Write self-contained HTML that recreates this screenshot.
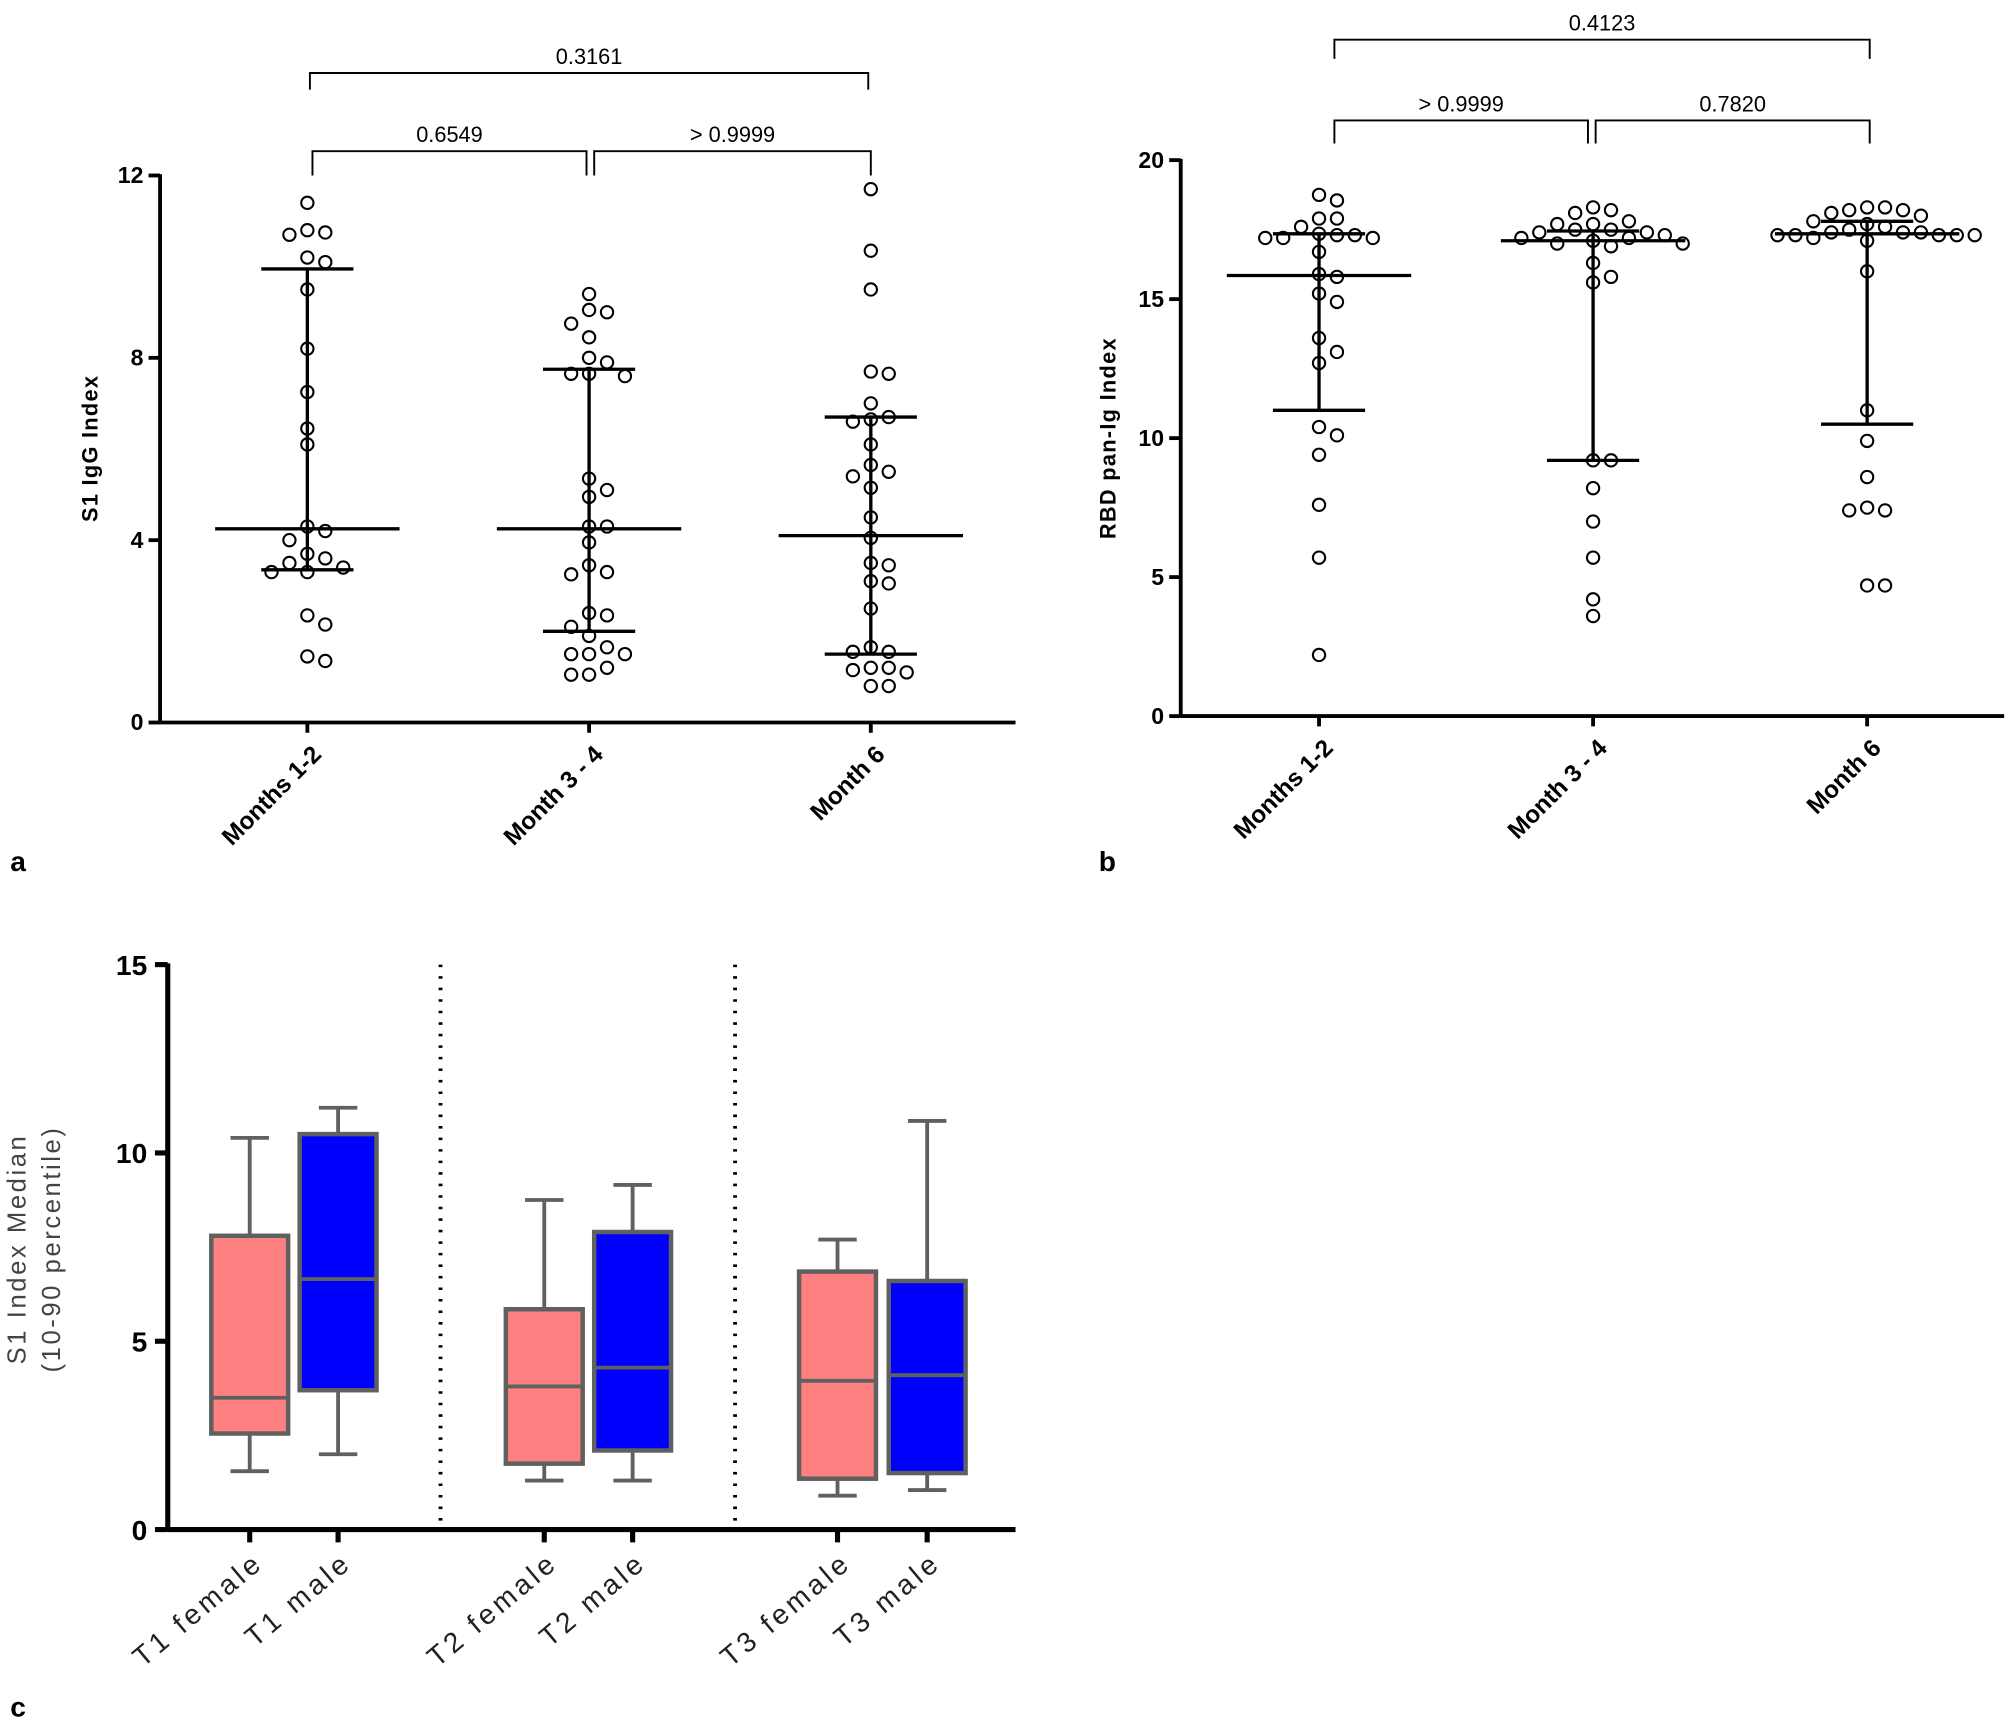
<!DOCTYPE html>
<html><head><meta charset="utf-8"><style>
html,body{margin:0;padding:0;background:#fff}
svg{display:block;font-family:"Liberation Sans",sans-serif}
</style></head><body>
<svg id="s" width="2008" height="1723" viewBox="0 0 1568 1345" preserveAspectRatio="none" xmlns="http://www.w3.org/2000/svg"></svg>
<script>
// ---- Panel a data ----
const catsA = ["Months 1-2","Month 3 - 4","Month 6"];
const ptsA0 = [11.4,10.75,10.7,10.8,10.1,10.2,9.5,8.2,7.25,6.45,6.1,4.2,4.3,4.0,3.6,3.5,3.7,3.3,3.3,3.4,2.35,2.15,1.35,1.45];
const ptsA1 = [9.05,9.0,9.4,8.75,8.45,8.0,7.9,7.65,7.6,7.65,5.35,5.1,4.95,4.3,4.3,3.95,3.45,3.3,3.25,2.4,2.35,2.1,1.9,1.65,1.5,1.5,1.5,1.05,1.05,1.2];
const ptsA2 = [11.7,10.35,9.5,7.7,7.65,7.0,6.65,6.7,6.6,6.1,5.65,5.4,5.5,5.15,4.5,4.05,3.45,3.5,3.05,3.1,2.5,1.65,1.55,1.55,1.15,1.2,1.2,1.1,0.8,0.8];
const medA = [4.25,4.25,4.1];
const loA = [3.35,2.0,1.5];
const hiA = [9.95,7.75,6.7];
const ticksA = [0,4,8,12];
// ---- Panel b data ----
const catsB = ["Months 1-2","Month 3 - 4","Month 6"];
const ptsB0 = [18.75,18.55,17.9,17.9,17.6,17.35,17.3,17.2,17.2,17.3,17.2,16.7,15.8,15.9,15.2,14.9,13.6,13.1,12.7,10.4,10.1,9.4,7.6,5.7,2.2];
const ptsB1 = [18.1,18.3,18.2,17.8,17.7,17.7,17.5,17.5,17.4,17.4,17.3,17.2,17.2,17.1,17.0,17.0,16.9,16.3,15.8,15.6,9.2,9.2,8.2,7.0,5.7,4.2,3.6];
const ptsB2 = [18.3,18.2,18.1,18.3,18.2,18.0,17.8,17.7,17.6,17.5,17.4,17.4,17.4,17.3,17.3,17.3,17.3,17.3,17.2,17.1,16.0,11.0,9.9,8.6,7.5,7.4,7.4,4.7,4.7];
const medB = [15.85,17.1,17.35];
const loB = [11.0,9.2,10.5];
const hiB = [17.35,17.45,17.8];
const ticksB = [0,5,10,15,20];
// ---- Panel c data ----
const catsC = ["T1 female","T1 male","T2 female","T2 male","T3 female","T3 male"];
const wLoC = [1.55,2.0,1.3,1.3,0.9,1.05];
const q1C = [2.55,3.7,1.75,2.1,1.35,1.5];
const medC = [3.5,6.65,3.8,4.3,3.95,4.1];
const q3C = [7.8,10.5,5.85,7.9,6.85,6.6];
const wHiC = [10.4,11.2,8.75,9.15,7.7,10.85];
const ticksC = [0,5,10,15];

const S = document.getElementById('s');
const NS = "http://www.w3.org/2000/svg";
function mk(tag, at, name, txt){
  const e = document.createElementNS(NS, tag);
  for (const k in at) e.setAttribute(k, at[k]);
  
  
  if (txt !== undefined) e.textContent = txt;
  S.appendChild(e); return e;
}
function line(x1,y1,x2,y2,w,name,col,dash){
  const a = {x1,y1,x2,y2,stroke:col||'#000','stroke-width':w};
  if (dash) a['stroke-dasharray']=dash;
  return mk('line',a,name);
}
function swarm(vals, cx, yf, d, r){
  const placed = [];
  const sorted = vals.slice().sort((a,b)=>b-a);
  sorted.forEach(v=>{
    const y = yf(v);
    for (let k=0;k<40;k++){
      const off = (k===0)?0:(k%2? Math.ceil(k/2)*d : -Math.ceil(k/2)*d);
      const x = cx+off;
      if (placed.every(p=>Math.hypot(p[0]-x,p[1]-y) >= 2*r+1.5)){ placed.push([x,y]); break; }
    }
  });
  return placed;
}
function scatterPanel(cfg){
  const yf = v => cfg.y0 - (v - 0)*(cfg.y0-cfg.y1)/cfg.max;
  line(cfg.ax, cfg.y1-1, cfg.ax, cfg.y0, 3, cfg.p+'-y-axis');
  line(cfg.ax, cfg.y0, cfg.xend, cfg.y0, 3, cfg.p+'-x-axis');
  cfg.ticks.forEach(t=>{
    line(cfg.ax-9, yf(t), cfg.ax, yf(t), 3, cfg.p+'-y-tick');
    mk('text',{x:cfg.ax-13,y:yf(t)+6,'text-anchor':'end','font-size':18,'font-weight':'bold'},cfg.p+'-y-tick-label',t);
  });
  mk('text',{x:0,y:0,transform:`translate(${cfg.tx},${cfg.ty}) rotate(-90)`,'text-anchor':'middle','font-size':17,'font-weight':'bold','letter-spacing':1},cfg.p+'-y-axis-title',cfg.title);
  cfg.cats.forEach((c,i)=>{
    const cx = cfg.cx[i];
    line(cx, cfg.y0, cx, cfg.y0+8, 3, cfg.p+'-x-tick');
    mk('text',{x:0,y:0,transform:`translate(${cx+12},${cfg.y0+26}) rotate(-45)`,'text-anchor':'end','font-size':19,'font-weight':'bold'},cfg.p+'-x-tick-label',c);
    swarm(cfg.pts[i], cx, yf, 14, 5).forEach(p=>{
      mk('circle',{cx:p[0],cy:p[1],r:4.8,fill:'#fff',stroke:'#000','stroke-width':1.6},cfg.p+'-data-point');
    });
    line(cx, yf(cfg.lo[i]), cx, yf(cfg.hi[i]), 2.6, cfg.p+'-error-bar');
    line(cx-72, yf(cfg.med[i]), cx+72, yf(cfg.med[i]), 2.6, cfg.p+'-median-line');
    line(cx-36, yf(cfg.lo[i]), cx+36, yf(cfg.lo[i]), 2.6, cfg.p+'-lower-cap');
    line(cx-36, yf(cfg.hi[i]), cx+36, yf(cfg.hi[i]), 2.6, cfg.p+'-upper-cap');
  });
}
scatterPanel({p:'a',ax:125,y0:564,y1:137,max:12,xend:793,cx:[240,460,680],cats:catsA,pts:[ptsA0,ptsA1,ptsA2],med:medA,lo:loA,hi:hiA,ticks:ticksA,title:'S1 IgG Index',tx:76,ty:350});
scatterPanel({p:'b',ax:922,y0:559,y1:125,max:20,xend:1565,cx:[1030,1244,1458],cats:catsB,pts:[ptsB0,ptsB1,ptsB2],med:medB,lo:loB,hi:hiB,ticks:ticksB,title:'RBD pan-Ig Index',tx:871,ty:342});

function bracket(x1,x2,y,drop,label,name){
  mk('path',{d:`M${x1},${y+drop} V${y} H${x2} V${y+drop}`,fill:'none',stroke:'#000','stroke-width':1.5},name);
  mk('text',{x:(x1+x2)/2,y:y-7,'text-anchor':'middle','font-size':17},name+'-label',label);
}
bracket(242,678,57,13,'0.3161','a-bracket-1-6');
bracket(244,458,118,19,'0.6549','a-bracket-1-34');
bracket(464,680,118,19,'> 0.9999','a-bracket-34-6');
bracket(1042,1460,31,15,'0.4123','b-bracket-1-6');
bracket(1042,1240,94,18,'> 0.9999','b-bracket-1-34');
bracket(1246,1460,94,18,'0.7820','b-bracket-34-6');

mk('text',{x:8,y:680,'font-size':22,'font-weight':'bold'},'panel-label-a','a');
mk('text',{x:858,y:680,'font-size':22,'font-weight':'bold'},'panel-label-b','b');
mk('text',{x:8,y:1340,'font-size':22,'font-weight':'bold'},'panel-label-c','c');

// ---- Panel c ----
(function(){
  const y0=1194, y1=753, max=15, ax=131;
  const yf = v => y0 - v*(y0-y1)/max;
  const cx = [195,264,425,494,654,724];
  line(ax, y1-1, ax, y0+1, 4, 'c-y-axis');
  line(ax, y0, 793, y0, 4, 'c-x-axis');
  ticksC.forEach(t=>{
    line(ax-10, yf(t), ax, yf(t), 4, 'c-y-tick');
    mk('text',{x:ax-16,y:yf(t)+8,'text-anchor':'end','font-size':22,'font-weight':'bold'},'c-y-tick-label',t);
  });
  line(344,y1,344,y0,3,'c-divider','#000','2,7');
  line(574,y1,574,y0,3,'c-divider','#000','2,7');
  mk('text',{x:0,y:0,transform:'translate(20,975) rotate(-90)','text-anchor':'middle','font-size':20,'fill':'#444','letter-spacing':2},'c-y-axis-title','S1 Index Median');
  mk('text',{x:0,y:0,transform:'translate(47,975) rotate(-90)','text-anchor':'middle','font-size':20,'fill':'#444','letter-spacing':2},'c-y-axis-subtitle','(10-90 percentile)');
  catsC.forEach((c,i)=>{
    const x=cx[i], col = i%2 ? '#0000ff' : '#ff8080';
    line(x,y0,x,y0+10,4,'c-x-tick');
    mk('text',{x:0,y:0,transform:`translate(${x+12},${y0+28}) rotate(-40)`,'text-anchor':'end','font-size':22,'fill':'#222','letter-spacing':3},'c-x-tick-label',c);
    line(x,yf(wLoC[i]),x,yf(wHiC[i]),3,'c-whisker','#606060');
    line(x-15,yf(wLoC[i]),x+15,yf(wLoC[i]),3,'c-whisker-cap','#606060');
    line(x-15,yf(wHiC[i]),x+15,yf(wHiC[i]),3,'c-whisker-cap','#606060');
    mk('rect',{x:x-30,y:yf(q3C[i]),width:60,height:yf(q1C[i])-yf(q3C[i]),fill:col,stroke:'#606060','stroke-width':3.5},'c-box-'+c.replace(' ','-').toLowerCase());
    line(x-30,yf(medC[i]),x+30,yf(medC[i]),3,'c-median','#606060');
  });
})();
</script>
</body></html>
